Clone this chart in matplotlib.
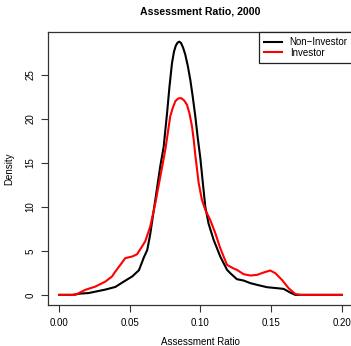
import matplotlib
matplotlib.use('Agg')
import matplotlib.pyplot as plt
import numpy as np

# density estimates of the assessment ratio, read at a set of ratio values
non_inv_x = [0.000, 0.0092, 0.0149, 0.0205, 0.0326, 0.0397, 0.0446, 0.0517, 0.0564,
             0.0600, 0.0623, 0.0644, 0.0680, 0.0715, 0.0739, 0.0763, 0.0780, 0.0798,
             0.0812, 0.0825, 0.0838, 0.0850, 0.0862, 0.0876, 0.0892, 0.0910, 0.0928,
             0.0945, 0.0963, 0.0980, 0.0999, 0.1016, 0.1034, 0.1057, 0.1093,
             0.1140, 0.1188, 0.1211, 0.1258, 0.1305, 0.1353, 0.1400, 0.1471, 0.1542,
             0.1589, 0.1636, 0.1671, 0.2000]
non_inv_y = [0.0, 0.0, 0.15, 0.2, 0.6, 0.9, 1.4, 2.1, 2.8,
             4.3, 5.1, 6.9, 10.8, 14.6, 16.8, 20.6, 23.6, 26.3,
             27.6, 28.3, 28.65, 28.75, 28.6, 28.1, 27.3, 26.0, 24.4,
             22.5, 20.3, 17.9, 15.5, 12.8, 10.0, 8.1, 6.25,
             4.35, 2.84, 2.46, 1.78, 1.63, 1.33, 1.14, 0.87, 0.76,
             0.68, 0.26, 0.0, 0.0]

inv_x = [0.000, 0.0113, 0.0184, 0.0255, 0.0326, 0.0373, 0.0397, 0.0432, 0.0467,
         0.0515, 0.0550, 0.0586, 0.0609, 0.0644, 0.0680, 0.0715, 0.0751, 0.0786,
         0.0805, 0.0822, 0.0842, 0.0862, 0.0883, 0.0904, 0.0922, 0.0940, 0.0952,
         0.0963, 0.0987, 0.1010, 0.1034, 0.1069, 0.1105,
         0.1140, 0.1188, 0.1234, 0.1258, 0.1305, 0.1353, 0.1400, 0.1447, 0.1494,
         0.1530, 0.1577, 0.1624, 0.1671, 0.1707, 0.2000]
inv_y = [0.0, 0.0, 0.57, 0.94, 1.51, 2.08, 2.65, 3.4, 4.17,
         4.35, 4.6, 5.5, 6.1, 7.76, 10.4, 13.4, 16.5, 20.3,
         21.3, 22.0, 22.3, 22.35, 22.1, 21.6, 20.6, 19.1, 17.6,
         15.9, 12.7, 10.8, 9.66, 8.5, 7.0,
         5.3, 3.4, 3.0, 2.84, 2.35, 2.2, 2.27, 2.54, 2.77,
         2.46, 1.7, 0.76, 0.1, 0.0, 0.0]

x_ticks = [0.00, 0.05, 0.10, 0.15, 0.20]
y_ticks = [0, 5, 10, 15, 20, 25]

plt.rcParams['font.family'] = ['Liberation Sans', 'DejaVu Sans']

W, H = 351, 346
fig = plt.figure(figsize=(W / 100, H / 100), dpi=100)
# the plot box runs slightly past the right edge of the image
ax = fig.add_axes([48 / W, 41 / H, 305 / W, 273 / H])

ax.plot(non_inv_x, non_inv_y, color='black', lw=1.5, label='Non\u2212Investor',
        solid_joinstyle='round')
ax.plot(inv_x, inv_y, color='#ff0000', lw=1.5, label='Investor',
        solid_joinstyle='round')

ax.set_xlim(-0.008, 0.208)
ax.set_ylim(-1.15, 29.85)
ax.set_xticks(x_ticks)
ax.set_xticklabels(['%.2f' % v for v in x_ticks])
ax.set_yticks(y_ticks)
ax.set_yticklabels([str(v) for v in y_ticks], rotation=90, va='center')
ax.tick_params(axis='both', labelsize=7, length=5, width=0.8, color='#333333')
ax.tick_params(axis='x', pad=4)
ax.tick_params(axis='y', pad=4)
for s in ax.spines.values():
    s.set_color('#333333')
    s.set_linewidth(0.9)

ax.set_xlabel('Assessment Ratio', fontsize=7, labelpad=7)
ax.set_ylabel('Density', fontsize=7, labelpad=8)
fig.text(200.5 / W, 1 - 11 / H, 'Assessment Ratio, 2000', ha='center', va='center',
         fontsize=7.6, fontweight='bold')

leg = ax.legend(loc='upper right', bbox_to_anchor=(1, 1), borderaxespad=0,
                fontsize=7, fancybox=False, handlelength=1.8, handletextpad=0.8,
                labelspacing=0.05, borderpad=0.55, framealpha=1)
leg.get_frame().set_edgecolor('#222222')
leg.get_frame().set_linewidth(0.9)

fig.savefig('out.png', dpi=100)
